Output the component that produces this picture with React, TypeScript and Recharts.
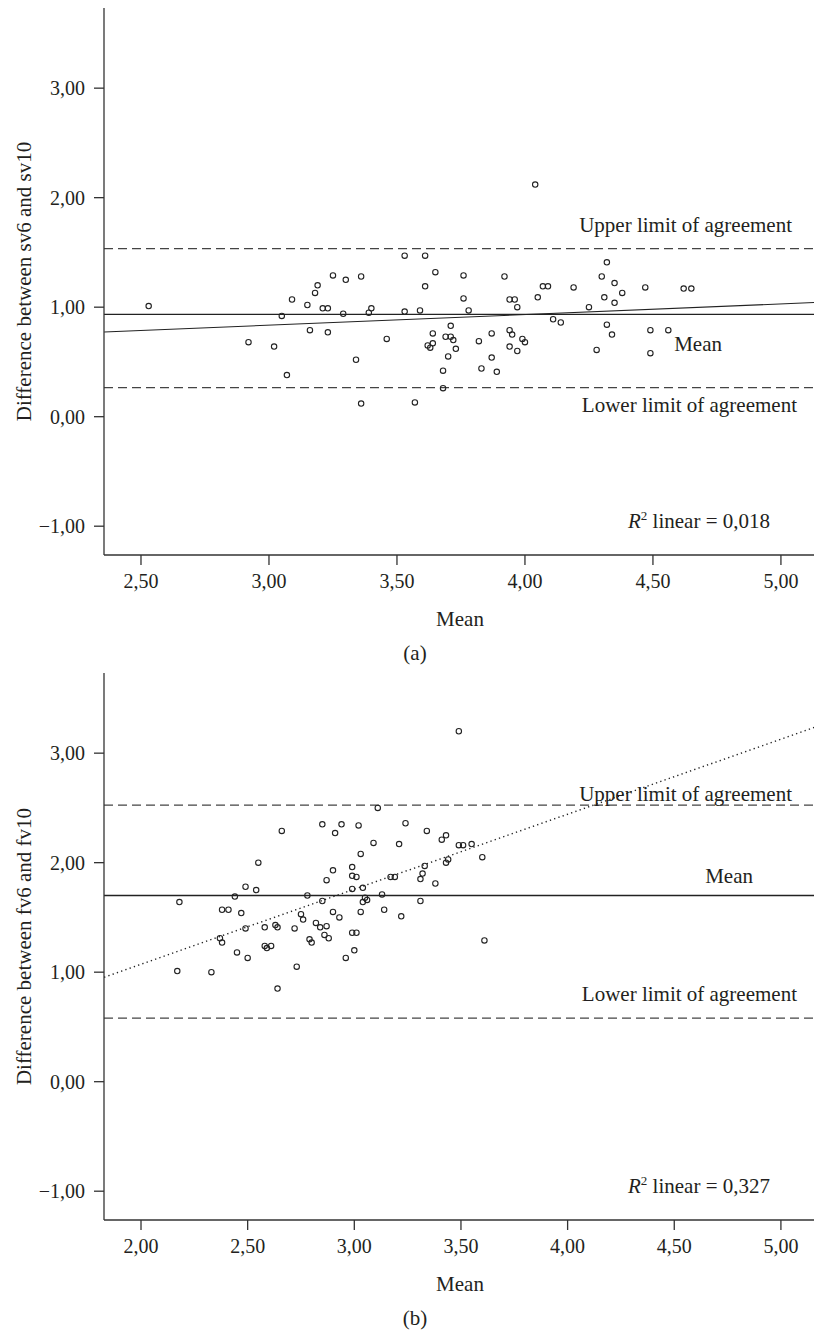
import React from 'react';
import { ScatterChart, Scatter, XAxis, YAxis, ReferenceLine } from 'recharts';

// panel (a): mean of sv6/sv10 vs difference
const svMean = [
  2.53, 2.92, 3.02, 3.07, 3.05, 3.09, 3.15, 3.16, 3.18, 3.19, 3.21, 3.23, 3.23, 3.25, 3.29, 3.3, 3.34,
  3.36, 3.36, 3.39, 3.4, 3.46, 3.53, 3.53, 3.57, 3.59, 3.61, 3.61, 3.65, 3.62, 3.63, 3.64, 3.64, 3.68,
  3.68, 3.7, 3.69, 3.71, 3.71, 3.72, 3.73, 3.76, 3.76, 3.78, 3.82, 3.83, 3.87, 3.87, 3.89, 3.92, 3.94,
  3.94, 3.94, 3.95, 3.96, 3.97, 3.97, 3.99, 4.0, 4.04, 4.05, 4.07, 4.09, 4.11, 4.14, 4.19, 4.25, 4.28,
  4.3, 4.31, 4.32, 4.32, 4.34, 4.35, 4.35, 4.38, 4.47, 4.49, 4.49, 4.56, 4.62, 4.65,
];
const svDiff = [
  1.01, 0.68, 0.64, 0.38, 0.92, 1.07, 1.02, 0.79, 1.13, 1.2, 0.99, 0.99, 0.77, 1.29, 0.94, 1.25, 0.52,
  1.28, 0.12, 0.95, 0.99, 0.71, 1.47, 0.96, 0.13, 0.97, 1.19, 1.47, 1.32, 0.65, 0.63, 0.76, 0.67, 0.42,
  0.26, 0.55, 0.73, 0.83, 0.73, 0.7, 0.62, 1.29, 1.08, 0.97, 0.69, 0.44, 0.54, 0.76, 0.41, 1.28, 0.79,
  0.64, 1.07, 0.75, 1.07, 1.0, 0.6, 0.71, 0.68, 2.12, 1.09, 1.19, 1.19, 0.89, 0.86, 1.18, 1.0, 0.61,
  1.28, 1.09, 0.84, 1.41, 0.75, 1.22, 1.04, 1.13, 1.18, 0.79, 0.58, 0.79, 1.17, 1.17,
];

// panel (b): mean of fv6/fv10 vs difference
const fvMean = [
  2.18, 2.17, 2.33, 2.37, 2.38, 2.38, 2.41, 2.44, 2.45, 2.47, 2.49, 2.49, 2.5, 2.54, 2.55, 2.58, 2.58,
  2.59, 2.61, 2.63, 2.64, 2.64, 2.66, 2.72, 2.73, 2.75, 2.76, 2.78, 2.79, 2.8, 2.82, 2.84, 2.85, 2.85,
  2.86, 2.87, 2.88, 2.87, 2.9, 2.9, 2.91, 2.93, 2.94, 2.96, 2.99, 2.99, 3.01, 2.99, 3.01, 3.0, 2.99,
  3.02, 3.03, 3.03, 3.04, 3.04, 3.05, 3.06, 3.09, 3.11, 3.13, 3.14, 3.17, 3.19, 3.21, 3.22, 3.24, 3.31,
  3.31, 3.32, 3.33, 3.34, 3.38, 3.41, 3.43, 3.43, 3.44, 3.49, 3.49, 3.51, 3.55, 3.6, 3.61,
];
const fvDiff = [
  1.64, 1.01, 1.0, 1.31, 1.27, 1.57, 1.57, 1.69, 1.18, 1.54, 1.78, 1.4, 1.13, 1.75, 2.0, 1.41, 1.24,
  1.22, 1.24, 1.43, 1.41, 0.85, 2.29, 1.4, 1.05, 1.53, 1.48, 1.7, 1.3, 1.27, 1.45, 1.41, 1.65, 2.35,
  1.34, 1.42, 1.31, 1.84, 1.93, 1.55, 2.27, 1.5, 2.35, 1.13, 1.96, 1.88, 1.87, 1.36, 1.36, 1.2, 1.76,
  2.34, 2.08, 1.55, 1.77, 1.64, 1.68, 1.66, 2.18, 2.5, 1.71, 1.57, 1.87, 1.87, 2.17, 1.51, 2.36, 1.85,
  1.65, 1.9, 1.97, 2.29, 1.81, 2.21, 2.25, 2.0, 2.03, 2.16, 3.2, 2.16, 2.17, 2.05, 1.29,
];

const xTicksA = [2.5, 3, 3.5, 4, 4.5, 5];
const xTicksB = [2, 2.5, 3, 3.5, 4, 4.5, 5];
const yTicks = [-1, 0, 1, 2, 3];

// limits of agreement and linear fit (end points)
const limitsA = { mean: 0.935, upper: 1.534, lower: 0.265 };
const limitsB = { mean: 1.7, upper: 2.525, lower: 0.58 };
const fitA = [{ x: 2.356, y: 0.773 }, { x: 5.137, y: 1.043 }];
const fitB = [{ x: 1.827, y: 0.954 }, { x: 5.164, y: 3.24 }];

const FONT = '"Liberation Serif", "Times New Roman", serif';
const INK = '#231f20';

const fmt = (v: number) => (v < 0 ? '\u2212' : '') + Math.abs(v).toFixed(2).replace('.', ',');

const Ring = (p: any) => <circle cx={p.cx} cy={p.cy} r={2.7} fill="none" stroke="#222" strokeWidth={1.1} />;

// text placed relative to the right end of a reference line
const LineText = (p: any) => {
  const vb = p.viewBox || { x: 0, y: 0, width: 0 };
  return (
    <text x={vb.x + vb.width - p.fromRight} y={vb.y + p.dy} textAnchor="end" fontFamily={FONT} fontSize={21} fill={INK}>
      {p.text}
    </text>
  );
};

type PanelProps = {
  means: number[];
  diffs: number[];
  xTicks: number[];
  xDomain: [number, number];
  limits: { mean: number; upper: number; lower: number };
  fit: { x: number; y: number }[];
  dotted: boolean;
  yTitle: string;
  r2: string;
  caption: string;
  top: number;
  txt: { upper: [number, number]; mean: [number, number]; lower: [number, number] };
};

function Panel(props: PanelProps) {
  const data = props.means.map((m, i) => ({ x: m, y: props.diffs[i] }));
  const tick = { fontFamily: FONT, fontSize: 20, fill: INK };
  const axisLine = { stroke: '#333', strokeWidth: 1.3 };
  return (
    <div style={{ position: 'absolute', left: 0, top: props.top, width: 816, height: 665 }}>
      <ScatterChart width={816} height={665} margin={{ top: 8, right: 0, bottom: 0, left: 0 }}>
        <XAxis
          type="number"
          dataKey="x"
          domain={props.xDomain}
          allowDataOverflow
          ticks={props.xTicks}
          tickFormatter={fmt}
          tick={tick}
          tickSize={10}
          tickMargin={9}
          height={110}
          axisLine={axisLine}
          tickLine={axisLine}
          label={{ value: 'Mean', position: 'insideTop', offset: 56, fontFamily: FONT, fontSize: 21, fill: INK }}
        />
        <XAxis xAxisId="top" orientation="top" type="number" domain={props.xDomain} height={0} tick={false} tickLine={false} axisLine={axisLine} />
        <YAxis
          type="number"
          dataKey="y"
          domain={[-1.263, 3.732]}
          allowDataOverflow
          ticks={yTicks}
          tickFormatter={fmt}
          tick={tick}
          tickSize={10}
          tickMargin={9}
          width={104}
          axisLine={axisLine}
          tickLine={axisLine}
          label={{ value: props.yTitle, angle: -90, position: 'insideLeft', offset: 24, style: { textAnchor: 'middle' }, fontFamily: FONT, fontSize: 21, fill: INK }}
        />
        <ReferenceLine y={props.limits.upper} stroke="#444" strokeWidth={1.3} strokeDasharray="9 5"
          label={<LineText text="Upper limit of agreement" fromRight={props.txt.upper[0]} dy={props.txt.upper[1]} />} />
        <ReferenceLine y={props.limits.lower} stroke="#444" strokeWidth={1.3} strokeDasharray="9 5"
          label={<LineText text="Lower limit of agreement" fromRight={props.txt.lower[0]} dy={props.txt.lower[1]} />} />
        <ReferenceLine y={props.limits.mean} stroke="#222" strokeWidth={1.3}
          label={<LineText text="Mean" fromRight={props.txt.mean[0]} dy={props.txt.mean[1]} />} />
        <ReferenceLine segment={props.fit} ifOverflow="hidden" stroke="#222" strokeWidth={props.dotted ? 1.4 : 1.1}
          strokeDasharray={props.dotted ? '1.3 3.2' : undefined} />
        <Scatter data={data} shape={Ring} isAnimationActive={false} />
      </ScatterChart>
      <div style={{ position: 'absolute', left: 560, top: 509, width: 210, textAlign: 'right', fontFamily: FONT, fontSize: 21, lineHeight: '24px', color: INK }}>
        <i>R</i>
        <sup style={{ fontSize: 13, verticalAlign: 'super', lineHeight: 0 }}>2</sup> linear = {props.r2}
      </div>
      <div style={{ position: 'absolute', left: 385, top: 641, width: 60, textAlign: 'center', fontFamily: FONT, fontSize: 21, lineHeight: '24px', color: INK }}>
        {props.caption}
      </div>
    </div>
  );
}

export default function App() {
  return (
    <div style={{ position: 'absolute', left: 0, top: 0, width: 814, height: 1333, overflow: 'hidden', background: '#fff' }}>
      <Panel
        means={svMean}
        diffs={svDiff}
        xTicks={xTicksA}
        xDomain={[2.3555, 5.137]}
        limits={limitsA}
        fit={fitA}
        dotted={false}
        yTitle="Difference between sv6 and sv10"
        r2="0,018"
        caption="(a)"
        top={0}
        txt={{ upper: [24, -17], mean: [94, 37], lower: [19, 24] }}
      />
      <Panel
        means={fvMean}
        diffs={fvDiff}
        xTicks={xTicksB}
        xDomain={[1.8265, 5.1645]}
        limits={limitsB}
        fit={fitB}
        dotted
        yTitle="Difference between fv6 and fv10"
        r2="0,327"
        caption="(b)"
        top={665}
        txt={{ upper: [24, -4], mean: [63, -13], lower: [19, -17] }}
      />
    </div>
  );
}
